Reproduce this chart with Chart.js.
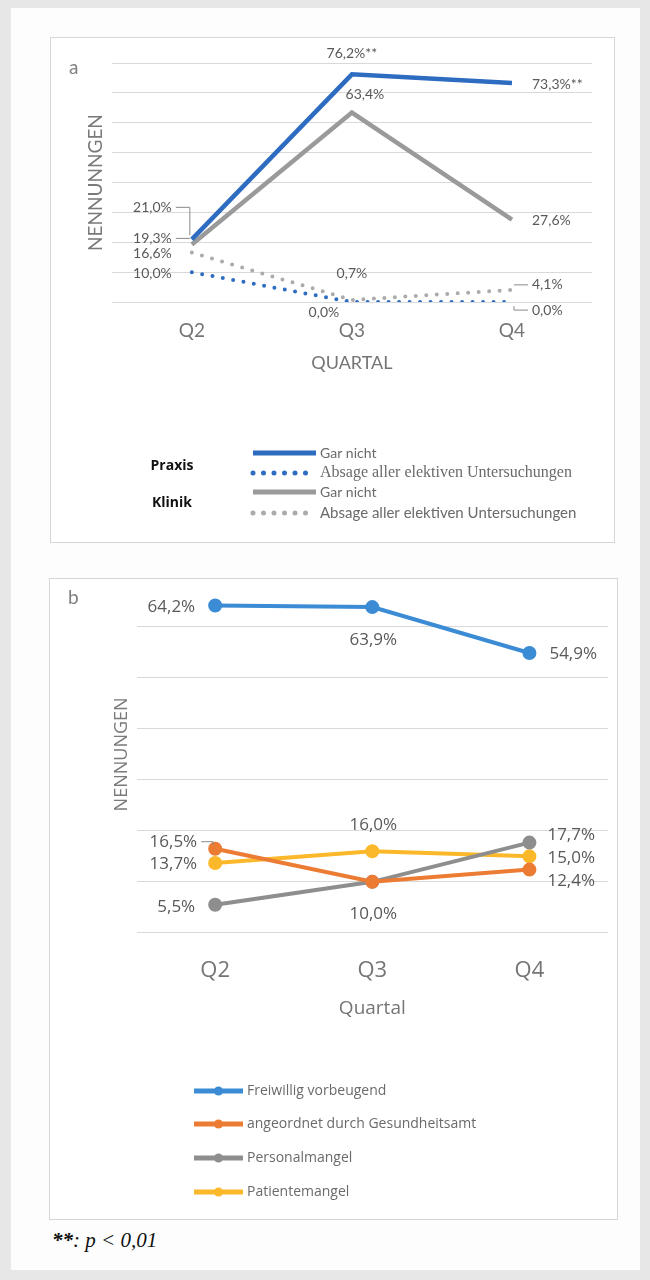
<!DOCTYPE html>
<html lang="de">
<head>
<meta charset="utf-8">
<title>Nennungen je Quartal</title>
<script src="https://cdn.jsdelivr.net/npm/chart.js@4.4.1/dist/chart.umd.min.js"></script>
<style>
    html, body { margin: 0; padding: 0; }
    body { width: 650px; height: 1280px; background: #e7e7e7; position: relative; overflow: hidden; font-family: Lato, sans-serif; }
    .sheet { position: absolute; left: 11px; top: 8px; width: 629px; height: 1262px; background: #fdfdfd; }
    .panel { position: absolute; border: 1px solid #d6d6d6; background: #fff; overflow: hidden; }
    #boxA { left: 50px; top: 37px; width: 563px; height: 504px; }
    #boxB { left: 49px; top: 578px; width: 567px; height: 640px; }
    .panel canvas { position: absolute; left: 0; }
    #chartA { top: 0; }
    #chartB { top: -12px; }
    .tag { position: absolute; color: #808080; font-size: 19px; line-height: 22px; }
    .note { position: absolute; left: 52px; top: 1228px; font-family: "Liberation Serif", serif; font-style: italic; font-size: 21px; line-height: 24px; color: #111; }
</style>
</head>
<body>
<div class="sheet"></div>
<div class="panel" id="boxA"><canvas id="chartA" width="563" height="504"></canvas></div>
<div class="panel" id="boxB"><canvas id="chartB" width="567" height="652"></canvas></div>
<div class="tag" style="left:69px; top:56px;">a</div>
<div class="tag" style="left:68px; top:586px;">b</div>
<div class="note"><b>**</b>: p &lt; 0,01</div>

<script>
// Kategorien
const quarters = ['Q2', 'Q3', 'Q4'];

// Abbildung a: Nennungen (%)
const praxisGarNicht = [21.0, 76.2, 73.3];
const praxisAbsage = [10.0, 0.0, 0.0];
const klinikGarNicht = [19.3, 63.4, 27.6];
const klinikAbsage = [16.6, 0.7, 4.1];
const praxisSignif = ['', '**', '**'];

// Abbildung b: Nennungen (%)
const freiwillig = [64.2, 63.9, 54.9];
const angeordnet = [16.5, 10.0, 12.4];
const personalmangel = [5.5, 10.0, 17.7];
const patientemangel = [13.7, 16.0, 15.0];

// Lage der Datenbeschriftungen: [Seite, dx, dy, Führungslinie]
const posPraxisGar = [['l', -20, -32, true], ['c', 0, -21], ['r', 20, 1]];
const posPraxisAbs = [['l', -20, 1], ['c', -28, 10], ['r', 20, 8, true]];
const posKlinikGar = [['l', -20, -6, true], ['c', 13, -18], ['r', 20, 1]];
const posKlinikAbs = [['l', -20, 1], ['c', 0, -27], ['r', 20, -5, true]];

const posFreiwillig = [['l', -20, 2], ['c', 1, 33], ['r', 20, 1]];
const posAngeordnet = [['l', -18, -7, true], null, ['r', 18, 12]];
const posPersonal = [['l', -20, 2], ['c', 1, 32], ['r', 18, -7]];
const posPatienten = [['l', -18, 1], ['c', 1, -26], ['r', 18, 2]];

function fmt(v) {
    return v.toFixed(1).replace('.', ',') + '%';
}

// Datenbeschriftungen an den Punkten
const pointLabels = {
    id: 'pointLabels',
    afterDatasetsDraw(chart, args, opts) {
        const ctx = chart.ctx;
        ctx.save();
        ctx.font = opts.font;
        ctx.fillStyle = opts.color;
        ctx.strokeStyle = opts.leaderColor;
        ctx.lineWidth = 1;
        ctx.textBaseline = 'middle';
        chart.data.datasets.forEach((ds, i) => {
            const meta = chart.getDatasetMeta(i);
            meta.data.forEach((pt, j) => {
                const p = ds.labelPos && ds.labelPos[j];
                if (!p) return;
                const txt = fmt(ds.data[j]) + (ds.suffix ? ds.suffix[j] : '');
                const x = pt.x + p[1];
                const y = pt.y + p[2];
                ctx.textAlign = p[0] === 'l' ? 'right' : (p[0] === 'r' ? 'left' : 'center');
                ctx.fillText(txt, x, y);
                if (p[3]) {
                    const sx = p[0] === 'l' ? x + 4 : x - 4;
                    const hx = p[0] === 'l' ? pt.x - 2 : pt.x + 2;
                    ctx.beginPath();
                    ctx.moveTo(sx, y);
                    ctx.lineTo(hx, y);
                    if (Math.abs(pt.y - y) > 6) {
                        ctx.lineTo(hx, pt.y + (pt.y > y ? -4 : 4));
                    }
                    ctx.stroke();
                }
            });
        });
        ctx.restore();
    }
};

// Legende als Liste (mit Gruppenbeschriftung)
const listLegend = {
    id: 'listLegend',
    afterDraw(chart, args, opts) {
        if (!opts.rows) return;
        const ctx = chart.ctx;
        ctx.save();
        ctx.textBaseline = 'middle';
        (opts.groups || []).forEach(g => {
            ctx.font = opts.groupFont;
            ctx.fillStyle = '#111';
            ctx.textAlign = 'center';
            ctx.fillText(g.text, g.x, g.y);
        });
        opts.rows.forEach(r => {
            const ds = chart.data.datasets[r.index];
            ctx.strokeStyle = ds.borderColor;
            ctx.lineWidth = opts.lineWidth || ds.borderWidth;
            ctx.lineCap = ds.borderCapStyle || 'butt';
            ctx.setLineDash(ds.borderDash || []);
            ctx.beginPath();
            ctx.moveTo(opts.x0, r.y);
            ctx.lineTo(opts.x1, r.y);
            ctx.stroke();
            ctx.setLineDash([]);
            if (opts.marker) {
                ctx.fillStyle = ds.borderColor;
                ctx.beginPath();
                ctx.arc((opts.x0 + opts.x1) / 2, r.y, opts.marker, 0, Math.PI * 2);
                ctx.fill();
            }
            ctx.font = r.font || opts.font;
            ctx.fillStyle = opts.color;
            ctx.textAlign = 'left';
            ctx.fillText(ds.label, opts.x1 + 4, r.y);
        });
        ctx.restore();
    }
};

const blueA = '#2d6cc0';
const greyA = '#9a9a9a';
const greyDotA = '#ababab';

const dataA = {
    labels: quarters,
    datasets: [
        { label: 'Gar nicht', data: praxisGarNicht, borderColor: blueA, borderWidth: 4.5, labelPos: posPraxisGar, suffix: praxisSignif },
        { label: 'Absage aller elektiven Untersuchungen', data: praxisAbsage, borderColor: blueA, borderWidth: 4, borderDash: [0, 10.5], borderCapStyle: 'round', labelPos: posPraxisAbs },
        { label: 'Gar nicht', data: klinikGarNicht, borderColor: greyA, borderWidth: 4.5, labelPos: posKlinikGar },
        { label: 'Absage aller elektiven Untersuchungen', data: klinikAbsage, borderColor: greyDotA, borderWidth: 4, borderDash: [0, 10.5], borderCapStyle: 'round', labelPos: posKlinikAbs }
    ]
};

const dataB = {
    labels: quarters,
    datasets: [
        { label: 'Freiwillig vorbeugend', data: freiwillig, borderColor: '#3b8bd5', backgroundColor: '#3b8bd5', borderWidth: 4, labelPos: posFreiwillig },
        { label: 'angeordnet durch Gesundheitsamt', data: angeordnet, borderColor: '#ec7b33', backgroundColor: '#ec7b33', borderWidth: 4, labelPos: posAngeordnet },
        { label: 'Personalmangel', data: personalmangel, borderColor: '#8e8e8e', backgroundColor: '#8e8e8e', borderWidth: 4, labelPos: posPersonal },
        { label: 'Patientemangel', data: patientemangel, borderColor: '#fbb82a', backgroundColor: '#fbb82a', borderWidth: 4, labelPos: posPatienten }
    ]
};

const axisGrey = '#757575';

const optionsA = {
    responsive: false,
    animation: false,
    layout: { padding: { left: 29, right: 22, top: 25, bottom: 164.5 } },
    elements: {
        line: { tension: 0, fill: false },
        point: { radius: 0, hoverRadius: 0 }
    },
    plugins: {
        legend: { display: false },
        tooltip: { enabled: false },
        pointLabels: { font: '14px Lato', color: '#595959', leaderColor: '#8a8a8a' },
        listLegend: {
            x0: 202, x1: 265, lineWidth: 5,
            font: '14px Lato', color: '#6a6a6a', groupFont: 'bold 14px "Open Sans"',
            groups: [{ text: 'Praxis', x: 121, y: 428 }, { text: 'Klinik', x: 121, y: 465 }],
            rows: [
                { index: 0, y: 415 },
                { index: 1, y: 435, font: '16px "Liberation Serif"' },
                { index: 2, y: 454 },
                { index: 3, y: 475, font: '15px Lato' }
            ]
        }
    },
    scales: {
        x: {
            offset: true,
            grid: { display: false },
            border: { display: false },
            ticks: { padding: 9, color: axisGrey, font: { family: 'Lato', size: 19 } },
            title: { display: true, text: 'QUARTAL', color: axisGrey, font: { family: 'Lato', size: 18 }, padding: { top: 1, bottom: 4 } }
        },
        y: {
            min: 0,
            max: 80,
            border: { display: false },
            grid: { color: '#d9d9d9', drawTicks: false },
            ticks: { display: false, stepSize: 10 },
            title: { display: true, text: 'NENNUNNGEN', color: '#7a7a7a', font: { family: 'Lato', size: 19 }, padding: { top: 4, bottom: 5 } }
        }
    }
};

const optionsB = {
    responsive: false,
    animation: false,
    layout: { padding: { left: 57, right: 0, top: 4, bottom: 195 } },
    elements: {
        line: { tension: 0, fill: false },
        point: { radius: 5, hoverRadius: 5, borderWidth: 0 }
    },
    plugins: {
        legend: { display: false },
        tooltip: { enabled: false },
        pointLabels: { font: '17px "Open Sans"', color: '#595959', leaderColor: '#8a8a8a' },
        listLegend: {
            x0: 144, x1: 193, marker: 4.5, lineWidth: 5,
            font: '14px "Open Sans"', color: '#6a6a6a',
            rows: [
                { index: 0, y: 524 },
                { index: 1, y: 557 },
                { index: 2, y: 591 },
                { index: 3, y: 625 }
            ]
        }
    },
    scales: {
        x: {
            offset: true,
            grid: { display: false },
            border: { display: false },
            ticks: { padding: 17, color: axisGrey, font: { family: 'Open Sans', size: 22 } },
            title: { display: true, text: 'Quartal', color: axisGrey, font: { family: 'Open Sans', size: 19 }, padding: { top: -4, bottom: 4 } }
        },
        y: {
            min: 0,
            max: 70,
            border: { display: false },
            grid: { color: '#d9d9d9', drawTicks: false },
            ticks: { display: false, stepSize: 10 },
            title: { display: true, text: 'NENNUNGEN', color: '#7a7a7a', font: { family: 'Open Sans', size: 18 }, padding: { top: 4, bottom: 4 } }
        }
    }
};

new Chart(document.getElementById('chartA'), {
    type: 'line',
    data: dataA,
    options: optionsA,
    plugins: [pointLabels, listLegend]
});

new Chart(document.getElementById('chartB'), {
    type: 'line',
    data: dataB,
    options: optionsB,
    plugins: [pointLabels, listLegend]
});
</script>
</body>
</html>
